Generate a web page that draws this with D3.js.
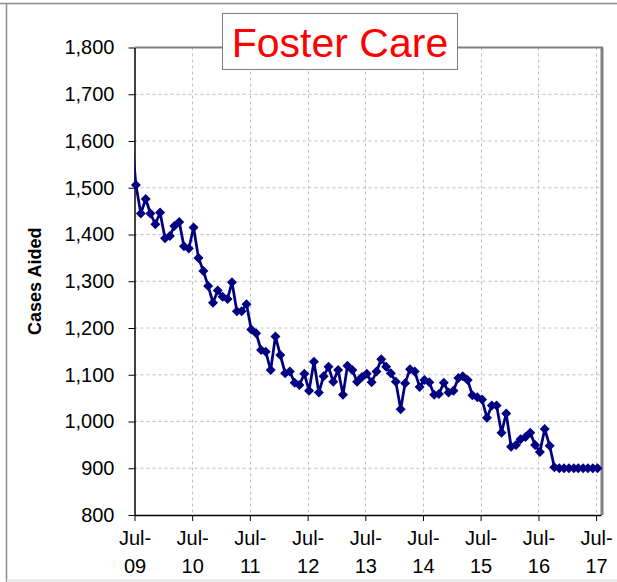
<!DOCTYPE html>
<html>
<head>
<meta charset="utf-8">
<script src="https://cdn.jsdelivr.net/npm/d3@7"></script>
<style>
    body { margin: 0; background: #fff; }
    svg { display: block; font-family: "Liberation Sans", Arial, sans-serif; }
</style>
</head>
<body>
<script>
    // monthly cases aided, first value is Jun-09 (only its line stub shows)
    const firstMonth = [2009, 5];
    const casesAided = [
        1620,
        1506, 1445, 1476, 1445, 1422, 1447, 1392, 1397, 1418, 1427, 1375, 1370,
        1415, 1350, 1322, 1290, 1254, 1280, 1267, 1262, 1298, 1236, 1236, 1251,
        1197, 1189, 1153, 1149, 1110, 1182, 1142, 1103, 1107, 1083, 1078, 1102,
        1066, 1128, 1062, 1097, 1117, 1085, 1110, 1057, 1119, 1110, 1085, 1095,
        1102, 1084, 1107, 1133, 1117, 1103, 1085, 1026, 1082, 1112, 1107, 1074,
        1089, 1084, 1057, 1059, 1083, 1062, 1066, 1093, 1097, 1089, 1056, 1052,
        1047, 1008, 1034, 1034, 976, 1017, 946, 950, 962, 967, 976, 950,
        935, 984, 948, 902, 900, 900, 900, 900, 900, 900, 900, 900,
        900
    ];
    const xTickLabels = ["Jul-09", "Jul-10", "Jul-11", "Jul-12", "Jul-13", "Jul-14", "Jul-15", "Jul-16", "Jul-17"];
    const yTicks = [800, 900, 1000, 1100, 1200, 1300, 1400, 1500, 1600, 1700, 1800];
    const chartTitle = "Foster Care";
    const yTitle = "Cases Aided";

    const width = 617;
    const height = 582;
    const plot = { left: 134.5, right: 601, top: 47.5, bottom: 515 };

    const data = casesAided.map((v, i) => ({
        date: new Date(firstMonth[0], firstMonth[1] + i, 10),
        value: v
    }));

    const parseTick = d3.timeParse("%b-%y");
    const tickDates = xTickLabels.map(parseTick);

    const x = d3.scaleTime()
    .domain([tickDates[0], d3.timeMonth.offset(tickDates[tickDates.length - 1], 1)])
    .range([plot.left, plot.right]);

    const y = d3.scaleLinear()
    .domain([yTicks[0], yTicks[yTicks.length - 1]])
    .range([plot.bottom, plot.top]);

    const svg = d3.select("body")
    .append("svg")
    .attr("width", width)
    .attr("height", height);

    // outer chart frame
    svg.append("line")
    .attr("x1", 0).attr("x2", width).attr("y1", 3.5).attr("y2", 3.5)
    .attr("stroke", "#8c8c8c").attr("stroke-width", 1.5);
    svg.append("line")
    .attr("x1", 6.5).attr("x2", 6.5).attr("y1", 3.5).attr("y2", height)
    .attr("stroke", "#8c8c8c").attr("stroke-width", 1.5);
    svg.append("line")
    .attr("x1", 6.5).attr("x2", width).attr("y1", 580.5).attr("y2", 580.5)
    .attr("stroke", "#e4e4e4").attr("stroke-width", 2);

    svg.append("defs")
    .append("clipPath")
    .attr("id", "plot-clip")
    .append("rect")
    .attr("x", plot.left)
    .attr("y", plot.top)
    .attr("width", plot.right - plot.left)
    .attr("height", plot.bottom - plot.top);

    // gridlines
    svg.append("g")
    .selectAll("line")
    .data(yTicks.slice(1, -1))
    .enter()
    .append("line")
    .attr("x1", plot.left).attr("x2", plot.right)
    .attr("y1", d => y(d)).attr("y2", d => y(d))
    .attr("stroke", "#c0c0c0")
    .attr("stroke-dasharray", "3,3");

    svg.append("g")
    .selectAll("line")
    .data(tickDates.slice(1))
    .enter()
    .append("line")
    .attr("x1", d => Math.round(x(d)) + 0.5).attr("x2", d => Math.round(x(d)) + 0.5)
    .attr("y1", plot.top).attr("y2", plot.bottom)
    .attr("stroke", "#c0c0c0")
    .attr("stroke-dasharray", "3,3");

    // plot border (top + right in gray)
    svg.append("line")
    .attr("x1", plot.left).attr("x2", plot.right + 2)
    .attr("y1", plot.top).attr("y2", plot.top)
    .attr("stroke", "#808080").attr("stroke-width", 2);
    svg.append("line")
    .attr("x1", plot.right + 1).attr("x2", plot.right + 1)
    .attr("y1", plot.top).attr("y2", plot.bottom)
    .attr("stroke", "#808080").attr("stroke-width", 3);

    // axes
    const yAxis = svg.append("g")
    .attr("transform", `translate(${plot.left}, 0)`)
    .call(d3.axisLeft(y).tickValues(yTicks).tickFormat(d3.format(",")).tickSize(6).tickPadding(14).tickSizeOuter(0));
    yAxis.select(".domain").attr("stroke", "#000").attr("stroke-width", 1.5);
    yAxis.selectAll(".tick line").attr("stroke", "#000");
    yAxis.selectAll(".tick text")
    .attr("fill", "#000")
    .style("font-size", "20px")
    .style("font-family", "'Liberation Sans', Arial, sans-serif");

    const xAxis = svg.append("g")
    .attr("transform", `translate(0, ${plot.bottom})`)
    .call(d3.axisBottom(x).tickValues(tickDates).tickFormat("").tickSize(6).tickSizeOuter(0));
    xAxis.select(".domain").attr("stroke", "#000").attr("stroke-width", 1.5);
    xAxis.selectAll(".tick line").attr("stroke", "#000");

    const xLabel = xAxis.selectAll(".tick")
    .append("text")
    .attr("fill", "#000")
    .attr("text-anchor", "middle")
    .style("font-size", "20px");
    xLabel.append("tspan")
    .attr("x", 0)
    .attr("y", 30)
    .text((d, i) => xTickLabels[i].split("-")[0] + "-");
    xLabel.append("tspan")
    .attr("x", 0)
    .attr("y", 58)
    .text((d, i) => xTickLabels[i].split("-")[1]);

    // y title
    svg.append("text")
    .attr("transform", `translate(41, ${(plot.top + plot.bottom) / 2}) rotate(-90)`)
    .attr("text-anchor", "middle")
    .style("font-size", "18px")
    .style("font-weight", "bold")
    .text(yTitle);

    // series
    const line = d3.line()
    .x(d => x(d.date))
    .y(d => y(d.value));

    svg.append("path")
    .datum(data)
    .attr("clip-path", "url(#plot-clip)")
    .attr("fill", "none")
    .attr("stroke", "#000080")
    .attr("stroke-width", 2.75)
    .attr("stroke-linejoin", "round")
    .attr("d", line);

    const r = 5;
    svg.append("g")
    .selectAll("path")
    .data(data.filter(d => d.date >= tickDates[0]))
    .enter()
    .append("path")
    .attr("transform", d => `translate(${x(d.date)}, ${y(d.value)})`)
    .attr("d", `M0,${-r}L${r},0L0,${r}L${-r},0Z`)
    .attr("fill", "#000080");

    // title box
    const titleG = svg.append("g");
    titleG.append("rect")
    .attr("x", 222.5)
    .attr("y", 13.5)
    .attr("width", 235)
    .attr("height", 56)
    .attr("fill", "#fff")
    .attr("stroke", "#808080");
    titleG.append("text")
    .attr("x", 340)
    .attr("y", 57)
    .attr("text-anchor", "middle")
    .attr("fill", "#ff0000")
    .style("font-size", "41px")
    .text(chartTitle);
</script>
</body>
</html>
